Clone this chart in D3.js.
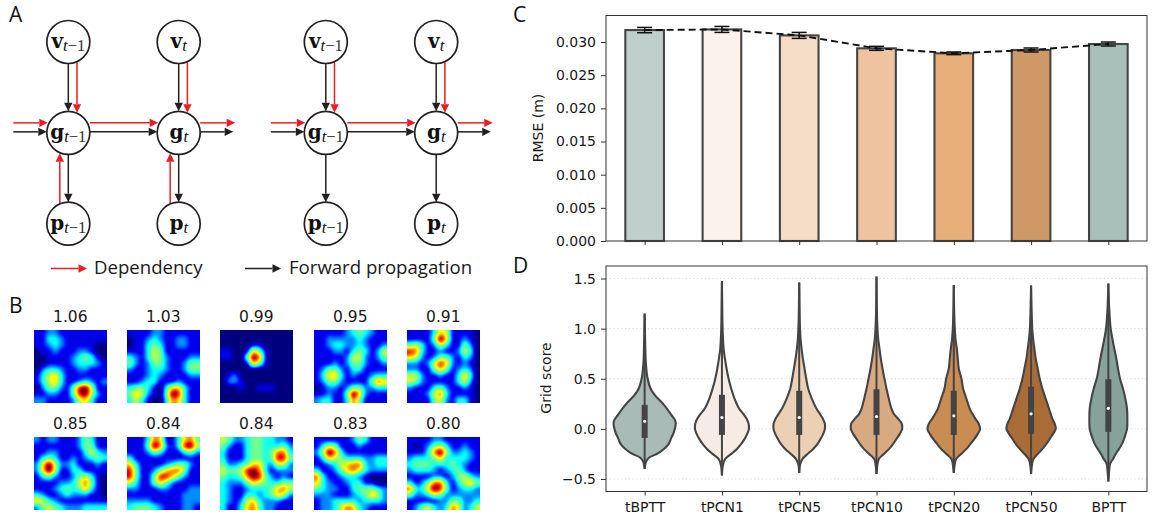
<!DOCTYPE html>
<html><head><meta charset="utf-8">
<script src="https://d3js.org/d3.v7.min.js"></script>
<style>
html,body{margin:0;padding:0;background:#fff}
svg{display:block}
text{font-family:"DejaVu Sans",sans-serif;fill:#1a1a1a}
.panel{font-family:"Open Sans",sans-serif;font-size:21px;fill:#111}
.legend{font-family:"Open Sans",sans-serif;font-size:18.6px;fill:#1a1a1a}
.axis text{font-size:14px;font-family:"DejaVu Sans",sans-serif;fill:#1a1a1a}
</style></head><body><svg id="c" width="1154" height="521"></svg>
<script>
// ---------- data: panel C ----------
const methods = ["tBPTT","tPCN1","tPCN5","tPCN10","tPCN20","tPCN50","BPTT"];
const rmse = [0.0318,0.0319,0.0310,0.02905,0.0283,0.0288,0.0297];
const rmseErr = [0.0004,0.00045,0.00045,0.0003,0.0002,0.0003,0.0003];
const barColors = ["#bfcfcb","#fbf2ec","#f4dcc6","#eec4a0","#e6ae78","#cf9967","#a9bfba"];
const rmseTicks = [0,0.005,0.01,0.015,0.02,0.025,0.03];
// ---------- data: panel D (score, half-width) ----------
const vTBPTT=[[-.40,0],[-.33,4],[-.29,12],[-.24,42],[-.16,70],[-.09,80],[-.03,88],[.07,93],[.14,80],[.24,58],[.34,30],[.40,18],[.50,9],[.64,4],[.80,2],[1.15,0]];
const vTPCN1=[[-.465,0],[-.36,3],[-.3,10],[-.25,28],[-.2,45],[-.15,58],[-.1,68],[-.05,76],[0,81],[.05,80],[.1,74],[.15,64],[.2,52],[.3,38],[.4,28],[.5,20],[.6,14],[.7,9],[.8,5],[1.0,2],[1.2,1],[1.475,0]];
const vTPCN5=[[-.44,0],[-.35,3],[-.3,10],[-.25,25],[-.2,42],[-.15,55],[-.1,64],[-.05,72],[0,77],[.05,77],[.1,71],[.15,62],[.2,52],[.3,38],[.4,27],[.5,21],[.6,16],[.7,11],[.8,7],[.9,4],[1.0,2.5],[1.1,1.5],[1.46,0]];
const vTPCN10=[[-.45,0],[-.35,3],[-.3,7],[-.25,22],[-.2,38],[-.15,50],[-.1,60],[-.05,70],[0,77],[.05,76],[.1,65],[.15,52],[.2,45],[.3,37],[.4,30],[.5,24],[.6,18],[.7,13],[.8,9],[.9,5],[1.0,3],[1.2,1],[1.52,0]];
const vTPCN20=[[-.44,0],[-.35,3],[-.3,7],[-.25,22],[-.2,38],[-.15,50],[-.1,62],[-.05,72],[0,79],[.05,75],[.1,65],[.15,56],[.2,48],[.3,38],[.4,28],[.5,23],[.6,15],[.7,12],[.8,9],[.9,5],[1.0,3],[1.2,1],[1.435,0]];
const vTPCN50=[[-.45,0],[-.35,3],[-.3,7],[-.25,20],[-.2,34],[-.15,46],[-.1,56],[-.05,66],[0,74],[.05,71],[.1,64],[.2,54],[.3,44],[.4,34],[.5,26],[.6,20],[.7,14],[.8,10],[.9,6],[1.0,3.5],[1.2,1.5],[1.43,0]];
const vBPTT=[[-.525,0],[-.4,3],[-.35,5],[-.3,14],[-.25,22],[-.2,32],[-.15,41],[-.1,47],[-.05,52],[0,56],[.1,57],[.2,56],[.3,51],[.4,44],[.5,35],[.6,29],[.7,24],[.8,18],[.9,12],[1.0,7],[1.2,2.5],[1.45,0]];
const violins=[vTBPTT,vTPCN1,vTPCN5,vTPCN10,vTPCN20,vTPCN50,vBPTT];
const q1=[-.09,-.06,-.06,-.06,-.06,-.05,-.03];
const q3=[.24,.34,.38,.395,.38,.42,.495];
const medians=[.076,.113,.113,.123,.13,.15,.205];
const violinColors=["#a9bbb6","#f6ece5","#ecd0b5","#d8aa82","#c98c53","#a96c36","#86a29b"];
const scoreTicks=[-.5,0,.5,1,1.5];
// ---------- data: panel B ----------
const heatScores=["1.06","1.03","0.99","0.95","0.91","0.85","0.84","0.84","0.83","0.80"];
const h106=["112211111111","113321111111","112321111100","011211122100","001111234310","001111233321","023321122111","135631111111","135631123212","024421489511","112211489521","221111256311"];
const h103=["111122111111","011232112211","011343112211","111354111111","321354211122","421244211244","211233211244","111232111122","112331112111","344310366311","465210498311","353100376311"];
const h099=["000000000000","000000000000","000001100000","110016410000","110049710000","000016410000","000000000000","012000000000","022100000000","000100111000","000000000000","000000000000"];
const h095=["111112343211","112222232111","112332232112","111221343125","111112552124","111212442112","124421331111","136631211233","124421111476","012212442233","112114962111","233113741111"];
const h091=["111136511110","111149611210","453125311420","873112112530","652124421320","221258621210","221146412320","552112113630","542111113520","211134211210","111257311110","111145213310"];
const h085=["212211124311","111111124411","112211113532","134311212343","269522311121","269511331111","134211245310","111122357410","111234346310","321123222110","653211111111","245432223333"];
const h084a=["111376113674","111497213895","111243111342","311111111111","631111234421","841124677411","841148864211","531146421111","221112211122","111111111222","222211111222","344432111221"];
const h084b=["542234433221","421134433342","311134434773","311134434884","422346632552","544589731222","433479842121","322246543344","321123334675","321133234652","321256322211","311367422111"];
const h083=["111111243111","135411121111","259731111111","136543332233","112356773233","311246753222","731123321000","632112331100","432211344432","222111234652","122333323332","122357632111"];
const h080=["111122111111","101245311211","111379522321","233346333321","344433343211","233321234211","111122124532","312477313564","733698412332","422354222222","111112244223","124532375235"];
const heatGrids=[h106,h103,h099,h095,h091,h085,h084a,h084b,h083,h080];
// ---------- data: panel A ----------
const diagramNodes=[
 {s:"v",sub:"t",tail:"−1",col:0,row:0},{s:"v",sub:"t",tail:"",col:1,row:0},
 {s:"g",sub:"t",tail:"−1",col:0,row:1},{s:"g",sub:"t",tail:"",col:1,row:1},
 {s:"p",sub:"t",tail:"−1",col:0,row:2},{s:"p",sub:"t",tail:"",col:1,row:2}];
const legendItems=[{label:"Dependency",color:"#ed1c24"},{label:"Forward propagation",color:"#231f20"}];
const RED="#ed1c24",BLK="#231f20";

const svg=d3.select("#c");
// ---------- layout ----------
const C={l:606,r:1147,t:15.5,b:241}, D={l:606,r:1147,t:266,b:491.5};
const panelLetters=[["A",9,22],["B",9,313],["C",513,22],["D",513,273]];
svg.selectAll(".panel").data(panelLetters).join("text").attr("class","panel")
 .attr("x",d=>d[1]).attr("y",d=>d[2]).text(d=>d[0]);

// ---------- Panel A ----------
const dx=d3.scaleLinear().domain([0,1]).range([68.3,178.7]);
const dy=d3.scalePoint().domain([0,1,2]).range([42,223.7]);
const R=21.5;
function arrow(g,x1,y1,x2,y2,color){
  const a=Math.atan2(y2-y1,x2-x1),L=8.5,W=4.2;
  const bx=x2-L*Math.cos(a),by=y2-L*Math.sin(a);
  g.append("line").attr("x1",x1).attr("y1",y1).attr("x2",bx).attr("y2",by).attr("stroke",color).attr("stroke-width",1.5);
  g.append("path").attr("fill",color).attr("d",d3.line()([[x2,y2],[bx-W*Math.sin(a),by+W*Math.cos(a)],[bx+W*Math.sin(a),by-W*Math.cos(a)]])+"Z");
}
function diagram(offset,backward){
  const g=svg.append("g").attr("transform",`translate(${offset},0)`);
  [0,1].forEach(c=>{
    const x=dx(c);
    const yV=dy(0),yG=dy(1),yP=dy(2);
    arrow(g,x,yV+R,x,yG-R,BLK);
    arrow(g,x+8.7,yV+R-1,x+8.7,yG-R+1.5,RED);
    arrow(g,x,yG+R,x,yP-R,BLK);
    if(backward) arrow(g,x-8.5,yP-R+1,x-8.5,yG+R-1,RED);
    const xs=c===0?dx(0)-R-33.5:dx(0)+R;
    const xe=c===0?dx(0)-R+1:dx(1)-R+1;
    arrow(g,xs,yG-10,xe,yG-10,RED);
    arrow(g,xs,yG-1,xe-1,yG-1,BLK);
  });
  arrow(g,dx(1)+R,dy(1)-10,dx(1)+R+35,dy(1)-10,RED);
  arrow(g,dx(1)+R,dy(1)-1,dx(1)+R+33,dy(1)-1,BLK);
  const n=g.selectAll("g.node").data(diagramNodes).join("g").attr("class","node")
    .attr("transform",d=>`translate(${dx(d.col)},${dy(d.row)})`);
  n.append("circle").attr("r",R).attr("fill","#fff").attr("stroke","#231f20").attr("stroke-width",1.7);
  const t=n.append("text").attr("text-anchor","middle").attr("y",6).style("font-family",'"Liberation Serif",serif').style("fill","#111");
  t.append("tspan").style("font-family",'"DejaVu Serif",serif').style("font-weight","bold").style("font-size","20px").text(d=>d.s);
  t.append("tspan").attr("dy",3).style("font-style","italic").style("font-size","16.5px").text(d=>d.sub);
  t.append("tspan").style("font-size","16.5px").style("fill","#333").text(d=>d.tail);
}
diagram(0,true);
diagram(257.5,false);
const legX=[[51,87,94],[245,281,289]];
legendItems.forEach((d,i)=>{
  const g=svg.append("g");
  arrow(g,legX[i][0],268.5,legX[i][1],268.5,d.color);
  g.append("text").attr("class","legend").attr("x",legX[i][2]).attr("y",274).text(d.label);
});

// ---------- Panel B ----------
const jet=d3.scaleLinear().domain([0,.11,.35,.5,.65,.89,1])
  .range(["#00007f","#0000ff","#00ffff","#80ff80","#ffff00","#ff0000","#7f0000"]).clamp(true);
const level=d3.scaleLinear().domain([0,1,2,3,4,5,6,7,8,9]).range([0,.09,.24,.37,.48,.58,.68,.78,.9,1.05]).clamp(true);
const heatX=[34,127,220,314,407], heatY=[330,437], heatSize=73;
const B=.5,K=.25;
function kern(x){x=Math.abs(x);
  if(x<1) return ((12-9*B-6*K)*x*x*x+(-18+12*B+6*K)*x*x+(6-2*B))/6;
  if(x<2) return ((-B-6*K)*x*x*x+(6*B+30*K)*x*x+(-12*B-48*K)*x+(8*B+24*K))/6;
  return 0;}
function heatImage(grid){
  const n=grid.length,vals=grid.map(r=>Array.from(r,Number));
  const cv=document.createElement("canvas");cv.width=cv.height=heatSize;
  const ctx=cv.getContext("2d"),img=ctx.createImageData(heatSize,heatSize);
  const at=(r,c)=>vals[Math.max(0,Math.min(n-1,r))][Math.max(0,Math.min(n-1,c))];
  for(let py=0;py<heatSize;py++)for(let px=0;px<heatSize;px++){
    const u=(px+.5)/heatSize*n-.5,v=(py+.5)/heatSize*n-.5,c=Math.floor(u),r=Math.floor(v);
    let s=0;
    for(let j=-1;j<=2;j++)for(let k=-1;k<=2;k++) s+=at(r+j,c+k)*kern(v-(r+j))*kern(u-(c+k));
    const col=d3.rgb(jet(level(s)));
    const i=(py*heatSize+px)*4;img.data[i]=col.r;img.data[i+1]=col.g;img.data[i+2]=col.b;img.data[i+3]=255;
  }
  ctx.putImageData(img,0,0);return cv.toDataURL();
}
heatGrids.forEach((g,i)=>{
  const x=heatX[i%5],y=heatY[Math.floor(i/5)];
  svg.append("image").attr("x",x).attr("y",y).attr("width",heatSize).attr("height",heatSize).attr("href",heatImage(g));
  svg.append("text").attr("x",x+36.3).attr("y",y-8).attr("text-anchor","middle").style("font-size","15.5px").text(heatScores[i]);
});

// ---------- Panel C ----------
const xC=d3.scaleBand().domain(methods).range([C.l,C.r]).paddingInner(.5).paddingOuter(.25);
const xP=d3.scalePoint().domain(methods).range([C.l,C.r]).padding(.5);
const yC=d3.scaleLinear().domain([0,0.034]).range([C.b,C.t]);
const gC=svg.append("g");
gC.selectAll("rect.bar").data(methods).join("rect").attr("class","bar")
 .attr("x",d=>xC(d)).attr("width",xC.bandwidth())
 .attr("y",(d,i)=>yC(rmse[i])).attr("height",(d,i)=>yC(0)-yC(rmse[i]))
 .attr("fill",(d,i)=>barColors[i]).attr("stroke","#444").attr("stroke-width",2.1);
gC.append("path").attr("fill","none").attr("stroke","#111").attr("stroke-width",1.9).attr("stroke-dasharray","7,4")
 .attr("d",d3.line().x(d=>xP(d)).y((d,i)=>yC(rmse[i]))(methods));
methods.forEach((m,i)=>{
  const x=xP(m),y1=yC(rmse[i]-rmseErr[i]),y2=yC(rmse[i]+rmseErr[i]);
  const g=gC.append("g").attr("stroke","#111").attr("stroke-width",1.5);
  g.append("line").attr("x1",x).attr("x2",x).attr("y1",y1).attr("y2",y2);
  [y1,y2].forEach(y=>g.append("line").attr("x1",x-7.5).attr("x2",x+7.5).attr("y1",y).attr("y2",y));
});
svg.append("g").attr("class","axis").attr("transform",`translate(${C.l},0)`)
 .call(d3.axisLeft(yC).tickValues(rmseTicks).tickFormat(d3.format(".3f")).tickSize(5).tickPadding(5));
svg.append("g").attr("class","axis").attr("transform",`translate(0,${C.b})`)
 .call(d3.axisBottom(xP).tickSize(4).tickFormat(""));

// ---------- Panel D ----------
const yD=d3.scaleLinear().domain([-.625,1.625]).range([D.b,D.t]);
const wD=d3.scaleLinear().domain([0,93]).range([0,31]);
const gD=svg.append("g");
gD.selectAll("line.grid").data(scoreTicks).join("line").attr("class","grid")
 .attr("x1",D.l).attr("x2",D.r).attr("y1",d=>yD(d)).attr("y2",d=>yD(d))
 .attr("stroke","#d8d8d8").attr("stroke-width",1).attr("stroke-dasharray","1.2,2.6");
methods.forEach((m,i)=>{
  const x=xP(m);
  gD.append("path").attr("fill",violinColors[i]).attr("stroke","#444").attr("stroke-width",2.1)
   .attr("d",d3.area().curve(d3.curveCatmullRom.alpha(.5)).y(d=>yD(d[0])).x0(d=>x-wD(d[1])).x1(d=>x+wD(d[1]))(violins[i]));
  const ends=d3.extent(violins[i],d=>d[0]);
  gD.append("line").attr("x1",x).attr("x2",x).attr("y1",yD(ends[0])).attr("y2",yD(ends[1])).attr("stroke","#444").attr("stroke-width",2);
  gD.append("rect").attr("x",x-3).attr("width",6).attr("y",yD(q3[i])).attr("height",yD(q1[i])-yD(q3[i])).attr("fill","#444");
  gD.append("circle").attr("cx",x).attr("cy",yD(medians[i])).attr("r",1.6).attr("fill","#fff");
});
svg.append("g").attr("class","axis").attr("transform",`translate(${D.l},0)`)
 .call(d3.axisLeft(yD).tickValues(scoreTicks).tickFormat(d3.format(".1f")).tickSize(5).tickPadding(5));
svg.append("g").attr("class","axis").attr("transform",`translate(0,${D.b})`)
 .call(d3.axisBottom(xP).tickSize(4).tickPadding(7));

[C,D].forEach(b=>svg.append("rect").attr("x",b.l).attr("y",b.t).attr("width",b.r-b.l).attr("height",b.b-b.t).attr("fill","none").attr("stroke","#333").attr("stroke-width",1));
svg.selectAll(".axis .domain").remove();
svg.selectAll(".axis .tick line").attr("stroke","#333");
[["RMSE (m)",543,128],["Grid score",551,378]].forEach(d=>
  svg.append("text").attr("transform",`translate(${d[1]},${d[2]}) rotate(-90)`).attr("text-anchor","middle").style("font-size","14px").text(d[0]));
</script></body></html>
